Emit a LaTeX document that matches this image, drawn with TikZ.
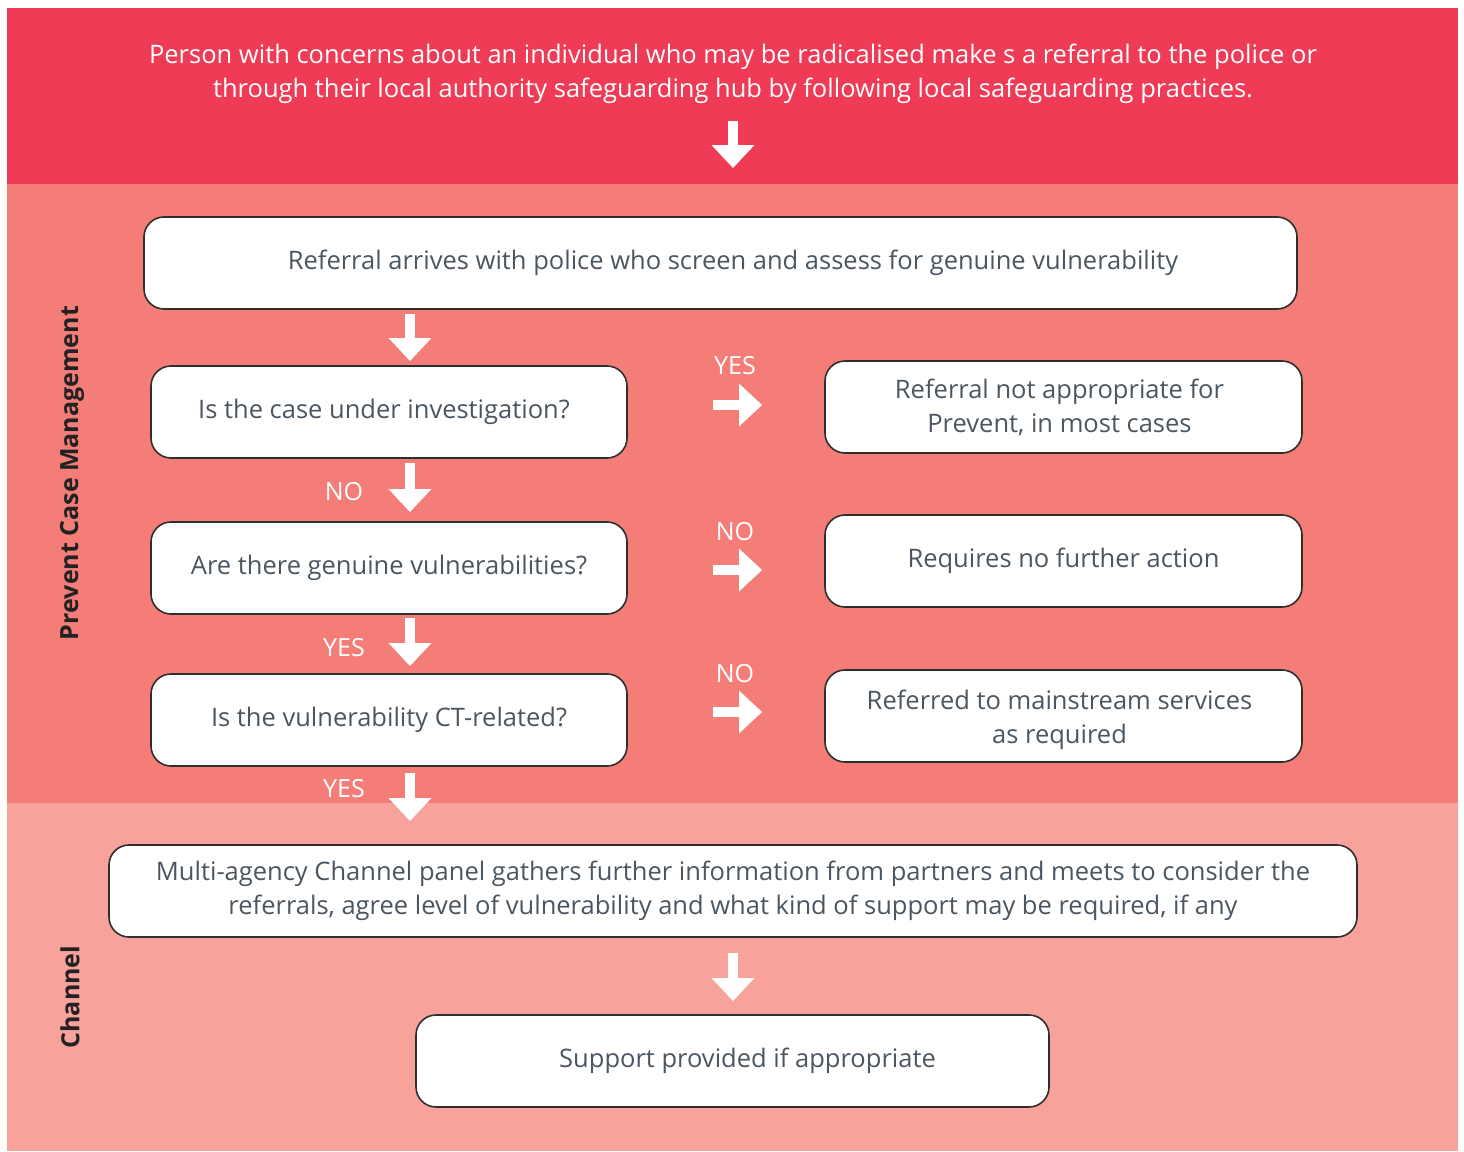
\documentclass[tikz,border=0pt]{standalone}
\usepackage{fontspec}
\setmainfont{Open Sans}
\usetikzlibrary{arrows.meta}
\definecolor{topred}{HTML}{EF3B55}
\definecolor{midred}{HTML}{F47D78}
\definecolor{lowred}{HTML}{F7A29A}
\definecolor{txtgray}{HTML}{4B5660}
\definecolor{edgecol}{HTML}{2E2E2E}
\definecolor{sidecol}{HTML}{222222}
\begin{document}
\begin{tikzpicture}[x=1pt,y=-1pt,
  box/.style={draw=edgecol, line width=1.6pt, fill=white, rounded corners=20pt,
    text=txtgray, font=\fontsize{25.5}{34}\selectfont, align=center, inner sep=0pt},
  blockarrow/.style={draw=white, line width=10pt,
    -{Triangle[width=43pt,length=23pt,line width=0pt]}},
  lbl/.style={text=white, font=\fontsize{25}{28}\selectfont, inner sep=0pt},
  side/.style={text=sidecol, font=\bfseries\fontsize{25}{28}\selectfont, rotate=90, inner sep=0pt}]
\useasboundingbox (0,0) rectangle (1464,1151);
\fill[white] (0,0) rectangle (1464,1151);
\fill[topred] (7,8) rectangle (1458,184);
\fill[midred] (7,184) rectangle (1458,803);
\fill[lowred] (7,803) rectangle (1458,1151);

\node[text=white, font=\fontsize{25.5}{34}\selectfont, align=center, inner sep=0pt] (top) at (733,74)
  {Person with concerns about an individual who may be radicalised make s a referral to the police or\\
   through their local authority safeguarding hub by following local safeguarding practices.};

\node[side] (pcm) at (72,473) {Prevent Case Management};
\node[side] (chan) at (70,997) {Channel};

\node[box, minimum width=1153pt, minimum height=92pt] (b1) at (720.5,263)
  {\hspace*{25pt}Referral arrives with police who screen and assess for genuine vulnerability};
\node[box, minimum width=476pt, minimum height=92pt] (b2) at (389,412)
  {Is the case under investigation?\hspace*{10pt}};
\node[box, minimum width=477pt, minimum height=92pt] (b3) at (1063.5,407)
  {Referral not appropriate for\hspace*{8pt}\\Prevent, in most cases\hspace*{8pt}};
\node[box, minimum width=476pt, minimum height=92pt] (b4) at (389,568)
  {Are there genuine vulnerabilities?};
\node[box, minimum width=477pt, minimum height=92pt] (b5) at (1063.5,561)
  {Requires no further action};
\node[box, minimum width=476pt, minimum height=92pt] (b6) at (389,720)
  {Is the vulnerability CT-related?};
\node[box, minimum width=477pt, minimum height=92pt] (b7) at (1063.5,716)
  {\rule{0pt}{27pt}Referred to mainstream services\hspace*{8pt}\\as required\hspace*{8pt}};
\node[box, minimum width=1248pt, minimum height=92pt] (b8) at (733,891)
  {Multi-agency Channel panel gathers further information from partners and meets to consider the\\
   referrals, agree level of vulnerability and what kind of support may be required, if any};
\node[box, minimum width=633pt, minimum height=92pt] (b9) at (732.5,1061)
  {\hspace*{30pt}Support provided if appropriate};

% arrow end points
\coordinate (a0s) at (733,121);  \coordinate (a0e) at (733,168);
\coordinate (a1s) at (410,314);  \coordinate (a1e) at (410,361);
\coordinate (a2s) at (410,463);  \coordinate (a2e) at (410,512);
\coordinate (a3s) at (410,618);  \coordinate (a3e) at (410,666);
\coordinate (a4s) at (410,773);  \coordinate (a4e) at (410,821);
\coordinate (a5s) at (733,953);  \coordinate (a5e) at (733,1001);
\coordinate (r1s) at (713,405);  \coordinate (r1e) at (762,405);
\coordinate (r2s) at (713,570);  \coordinate (r2e) at (762,570);
\coordinate (r3s) at (713,712);  \coordinate (r3e) at (762,712);

\draw[blockarrow] (a0s) -- (a0e);
\draw[blockarrow] (a1s) -- (a1e);
\draw[blockarrow] (a2s) -- (a2e);
\draw[blockarrow] (a3s) -- (a3e);
\draw[blockarrow] (a4s) -- (a4e);
\draw[blockarrow] (a5s) -- (a5e);
\draw[blockarrow] (r1s) -- (r1e);
\draw[blockarrow] (r2s) -- (r2e);
\draw[blockarrow] (r3s) -- (r3e);

\node[lbl] (l1) at (344,492) {NO};
\node[lbl] (l2) at (344,648) {YES};
\node[lbl] (l3) at (344,789) {YES};
\node[lbl] (l4) at (735,366) {YES};
\node[lbl] (l5) at (735,532) {NO};
\node[lbl] (l6) at (735,674) {NO};
\end{tikzpicture}
\end{document}
